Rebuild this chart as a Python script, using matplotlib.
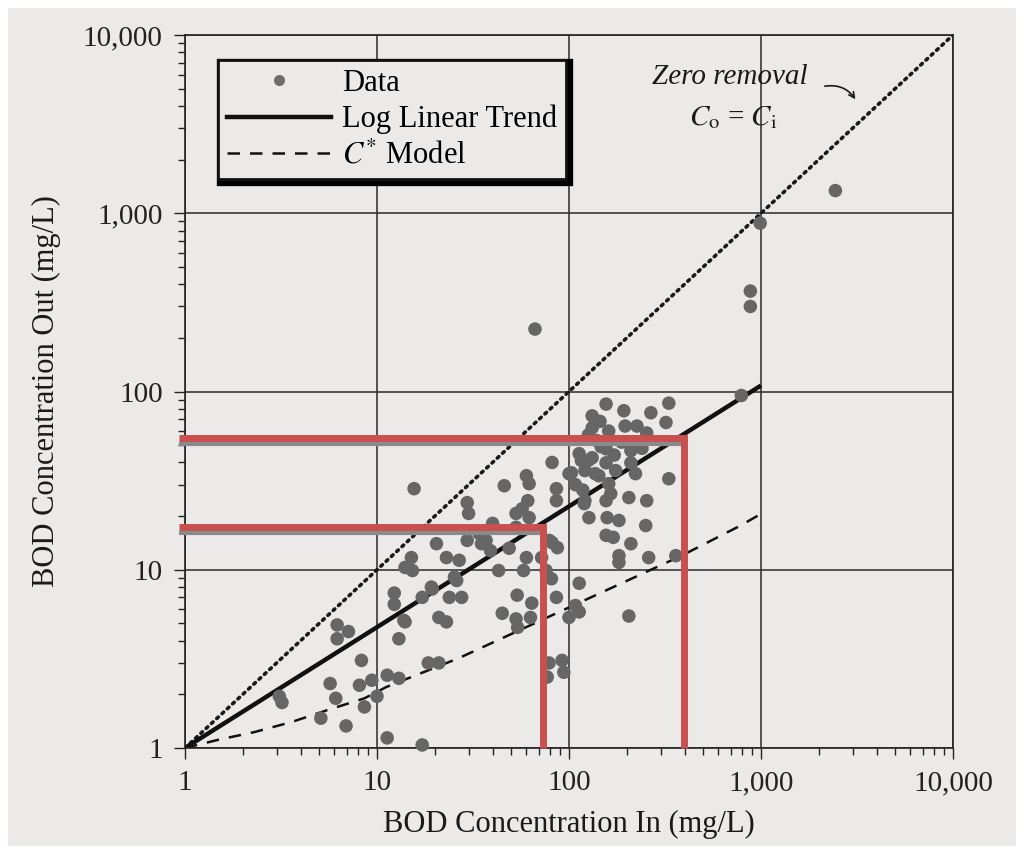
# BOD in vs out, log-log scatter with trend, C* model and 1:1 line
import matplotlib
matplotlib.use("Agg")
import matplotlib.pyplot as plt
import matplotlib.transforms as mtransforms
from matplotlib.lines import Line2D
from matplotlib.patches import Rectangle

plt.rcParams['font.family'] = ['Liberation Serif', 'DejaVu Serif']
plt.rcParams['mathtext.fontset'] = 'stix'

# data (mg/L)
bod_in = [3.1, 3.2, 6.2, 7.1, 6.2, 8.3, 5.7, 6.1, 5.1, 6.9, 8.1, 9.4, 8.6, 10.0,
          11.3, 13.0, 11.3, 17.2, 18.5, 21.0, 12.3, 12.3, 13.8, 13.0, 19.4, 17.2,
          15.6, 29.5, 30.0, 46, 60, 62, 61, 53, 86, 86, 100,
          20.4, 15.1, 14, 15.3, 23, 26.8, 29.5, 37, 39, 48.8, 60, 81.6, 43, 58,
          25.3, 26, 19.2, 23.8, 27.6, 14, 21, 23, 53.7, 44.9, 53, 54, 64, 63,
          76, 77, 86, 72, 78.7, 92, 94, 77, 100, 108, 40, 62, 53, 35, 79, 87,
          81, 113, 205, 34, 57,
          156, 132, 193, 267, 331, 320, 196, 226, 132, 161, 254, 113, 132, 156,
          210, 210, 156, 103, 121, 143, 222, 331, 161, 205, 254, 121, 156, 127,
          158, 182, 251, 156, 170, 210, 182, 182, 260, 360, 113, 81.6, 116, 126,
          165, 120, 137, 126, 147, 140, 118, 172, 108, 188, 240, 145, 175,
          66.5, 990, 880, 880, 2440, 790]
bod_out = [1.95, 1.8, 4.9, 4.5, 4.1, 3.1, 2.3, 1.9, 1.47, 1.33, 2.25, 2.4, 1.7, 1.95,
           2.56, 2.46, 1.14, 1.04, 3.0, 3.0, 7.4, 6.4, 5.2, 4.1, 7.8, 7.0,
           28.5, 23.8, 20.7, 29.6, 33.7, 30.4, 24.4, 20.7, 28.5, 24.4, 34.6,
           14, 11.7, 10.3, 9.9, 11.7, 11.3, 14.6, 14.6, 12.8, 13.2, 11.7, 14.2, 9.9, 9.9,
           9.1, 8.7, 8.0, 7.0, 7.0, 5.1, 5.4, 5.1, 7.2, 5.7, 5.3, 4.75, 6.5, 5.4,
           9.9, 9.1, 7.0, 11.7, 3.0, 3.1, 2.66, 2.5, 5.4, 6.3, 18.2, 19.6, 17.3, 14, 14.6, 13.3,
           8.9, 8.4, 5.5, 16, 22,
           85, 73, 78, 76, 86, 67, 64, 64, 62.5, 60, 58.5, 44.8, 42.5, 47.7,
           46.6, 39.8, 39.8, 35, 36, 33.7, 34.6, 32.4, 30.4, 25.4, 24.4, 24.4, 24.4, 19.6,
           19.6, 18.9, 17.7, 15.6, 15.2, 14, 12, 11, 11.7, 12, 5.8, 40, 41, 41,
           26.7, 23.5, 34.6, 57, 49, 53, 28, 44, 30, 52, 48, 68, 36,
           224, 880, 366, 300, 1340, 95]

zero_x = [1, 10000]
zero_y = [1, 10000]
trend_x = [1, 1000]
trend_y = [1, 108]
cstar_x = [1, 1.48, 2.31, 3.6, 5.5, 8.6, 11.2, 26.8, 386, 783, 1000]
cstar_y = [1, 1.11, 1.23, 1.4, 1.63, 1.9, 2.2, 3.2, 12, 17.7, 20.6]

# red reading lines drawn over the figure
red_hi_x = [0.93, 396, 396]
red_hi_y = [55, 55, 1]
red_lo_x = [0.93, 73, 73]
red_lo_y = [17.3, 17.3, 1]

ticks = [1, 10, 100, 1000, 10000]
tick_labels = ['1', '10', '100', '1,000', '10,000']

page = '#ebeae8'
fig = plt.figure(figsize=(10.24, 8.52), dpi=100, facecolor='white')
fig.patches.append(Rectangle((8 / 1024, 6 / 852), 1008 / 1024, 838 / 852,
                             transform=fig.transFigure, facecolor=page,
                             edgecolor='none', zorder=-10))
ax = fig.add_axes([185 / 1024, 1 - 748 / 852, 768 / 1024, 713 / 852])
ax.set_facecolor(page)
ax.set_xscale('log')
ax.set_yscale('log')
ax.set_xlim(1, 10000)
ax.set_ylim(1, 10000)

ax.grid(True, which='major', color='#2a2a2a', lw=1.1)
ax.set_axisbelow(True)
ax.set_xticks(ticks, tick_labels)
ax.set_yticks(ticks, tick_labels)
ax.tick_params(which='major', direction='out', length=8, width=1, labelsize=21,
               colors='#222222', pad=8)
ax.tick_params(which='minor', direction='out', length=5, width=1, colors='#222222')
for s in ax.spines.values():
    s.set_color('#222222')
    s.set_linewidth(1.2)

ax.plot(zero_x, zero_y, color='#1a1a1a', lw=2.6, ls=(0, (0.6, 1.4)),
        dash_capstyle='round')
ax.plot(trend_x, trend_y, color='#111111', lw=3.2, solid_capstyle='butt')
ax.plot(cstar_x, cstar_y, color='#111111', lw=1.8, ls=(0, (5, 4)))
ax.scatter(bod_in, bod_out, s=95, color='#666666', edgecolors='none', zorder=3,
           clip_on=False)

# red lines with the grey print band under the horizontals
shift = mtransforms.offset_copy(ax.transData, fig=fig, x=0, y=-6, units='dots')
for rx, ry in [(red_hi_x, red_hi_y), (red_lo_x, red_lo_y)]:
    ax.plot(rx[:2], ry[:2], color='#8a8a8a', lw=3, transform=shift,
            solid_capstyle='butt', zorder=4, clip_on=False)
    ax.plot(rx, ry, color='#c9504f', lw=5, solid_joinstyle='miter',
            solid_capstyle='butt', zorder=5, clip_on=False)

ax.text(690, 5840, 'Zero removal', style='italic', fontsize=21,
        ha='center', va='center', color='#1a1a1a')
ax.text(715, 3440, r'$C_{\mathrm{o}}$ = $C_{\mathrm{i}}$', fontsize=21,
        ha='center', va='center', color='#1a1a1a')
ax.annotate('', xy=(3160, 4230), xytext=(2080, 5130),
            arrowprops=dict(arrowstyle='->', color='#1a1a1a', lw=1.2,
                            connectionstyle='arc3,rad=-0.35'))

handles = [
    Line2D([], [], ls='none', marker='o', ms=8, color='#6e6e6e', mec='none'),
    Line2D([], [], color='#111111', lw=3.2),
    Line2D([], [], color='#111111', lw=1.8, ls=(0, (5, 4))),
]
leg = ax.legend(handles, ['Data', 'Log Linear Trend', r'$C^{*}$ Model'],
                loc='upper left', bbox_to_anchor=(0.043, 0.965), fontsize=22,
                frameon=True, fancybox=False, handlelength=3.4,
                borderpad=0.3, labelspacing=0.22, handletextpad=0.35,
                borderaxespad=0,
                shadow={'color': 'black', 'alpha': 1, 'linewidth': 6})
leg.get_frame().set_edgecolor('#111111')
leg.get_frame().set_linewidth(2)
leg.get_frame().set_facecolor(page)
leg.get_frame().set_alpha(1)

ax.set_xlabel('BOD Concentration In (mg/L)', fontsize=22, color='#1a1a1a',
              labelpad=10)
ax.set_ylabel('BOD Concentration Out (mg/L)', fontsize=22, color='#1a1a1a',
              labelpad=16)

fig.savefig('out.png', dpi=100, facecolor=fig.get_facecolor())
